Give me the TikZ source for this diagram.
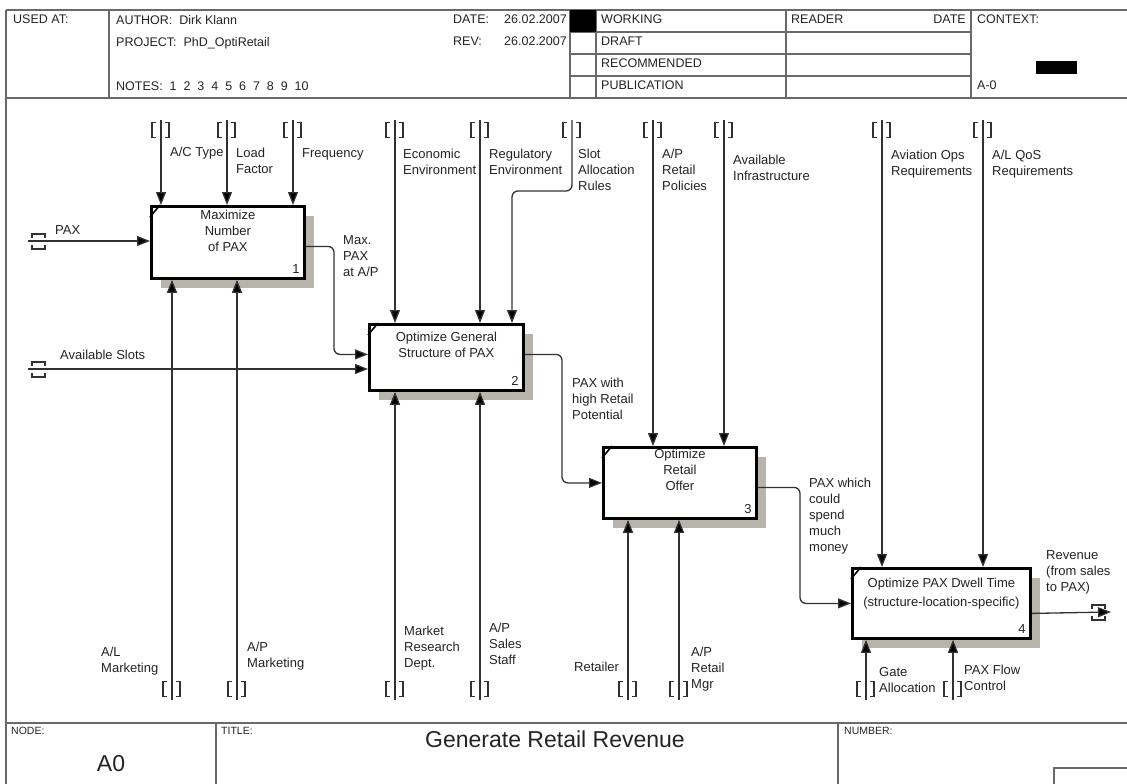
\documentclass[tikz,border=0pt]{standalone}
\usepackage{fontspec}
\setmainfont{Liberation Sans}
\usetikzlibrary{arrows.meta,shadows}
\definecolor{txt}{RGB}{35,35,35}
\definecolor{lin}{RGB}{50,50,50}
\definecolor{frm}{RGB}{105,105,105}
\definecolor{shc}{RGB}{184,179,171}
\begin{document}
\begin{tikzpicture}[x=1pt,y=-1pt,
  lbl/.style={font=\fontsize{13}{16}\selectfont, text=txt, inner sep=0pt, align=left, anchor=north west},
  hdr/.style={font=\fontsize{12.5}{15}\selectfont, text=txt, inner sep=0pt, anchor=north west},
  small/.style={font=\fontsize{10.5}{12}\selectfont, text=txt, inner sep=0pt, anchor=north west},
  big/.style={font=\fontsize{23}{26}\selectfont, text=txt, inner sep=0pt, anchor=north},
  frame/.style={draw=frm, line width=1.6pt},
  actbox/.style={draw=black, line width=2.8pt, fill=white, inner sep=0pt, anchor=north west,
     drop shadow={shadow xshift=10pt, shadow yshift=-10pt, fill=shc, opacity=1}},
  boxtxt/.style={font=\fontsize{13}{16}\selectfont, text=txt, inner sep=0pt, align=center, anchor=north},
  numtxt/.style={font=\fontsize{13}{16}\selectfont, text=txt, inner sep=0pt, anchor=base east},
  notch/.style={draw=black, line width=1.6pt},
  arr/.style={draw=lin, line width=1.3pt, rounded corners=6pt, -{Triangle[length=13pt,width=10pt,fill=black]}},
  tunnel/.style={draw=lin, line width=1.1pt},
  tunv/.pic={\draw[tunnel] (-5,-7.5) -- (-9,-7.5) -- (-9,7.5) -- (-5,7.5)
                           (4,-7.5) -- (8,-7.5) -- (8,7.5) -- (4,7.5);},
  tunh/.pic={\draw[tunnel] (2,-3) -- (2,-7) -- (15,-7) -- (15,-3)
                           (2,4) -- (2,8) -- (15,8) -- (15,4);}
]
\useasboundingbox (0,0) rectangle (1127,784);

% ---------- frame and header ----------
\draw[frame] (6,10) -- (1127,10);
\draw[frame] (6,98) -- (1127,98);
\draw[frame] (6,10) -- (6,784);
\draw[frame] (109,10) -- (109,98);
\draw[frame] (570,10) -- (570,98);
\draw[frame] (596,10) -- (596,98);
\draw[frame] (786,10) -- (786,98);
\draw[frame] (971,10) -- (971,98);
\draw[frame] (570,32) -- (971,32);
\draw[frame] (570,54) -- (971,54);
\draw[frame] (570,76) -- (971,76);
\fill[black] (570,10) rectangle (596,32);
\fill[black] (1036,61) rectangle (1077,74);

\node[hdr] (usedat) at (13,15) {USED AT:};
\node[hdr] (author) at (116,15) {AUTHOR:\ \ Dirk Klann};
\node[hdr] (project) at (116,37) {PROJECT:\ \ PhD\_OptiRetail};
\node[hdr] (notes) at (116,82) {NOTES:\ \ 1\ \ 2\ \ 3\ \ 4\ \ 5\ \ 6\ \ 7\ \ 8\ \ 9\ \ 10};
\node[hdr] (datek) at (453,15) {DATE:};
\node[hdr,anchor=north east] (datev) at (567,15) {26.02.2007};
\node[hdr] (revk) at (453,37) {REV:};
\node[hdr,anchor=north east] (revv) at (567,37) {26.02.2007};
\node[hdr] (working) at (601,15) {WORKING};
\node[hdr] (draft) at (601,37) {DRAFT};
\node[hdr] (recom) at (601,59) {RECOMMENDED};
\node[hdr] (public) at (601,81) {PUBLICATION};
\node[hdr] (reader) at (791,15) {READER};
\node[hdr,anchor=north east] (rdate) at (966,15) {DATE};
\node[hdr] (context) at (977,15) {CONTEXT:};
\node[hdr] (azero) at (977,81) {A-0};

% ---------- footer ----------
\draw[frame] (6,723) -- (1127,723);
\draw[frame] (216,723) -- (216,784);
\draw[frame] (838,723) -- (838,784);
\draw[frame] (1054,768) rectangle (1140,795);
\node[small] (nodek) at (11,727) {NODE:};
\node[small] (titlek) at (221,727) {TITLE:};
\node[small] (numberk) at (844,727) {NUMBER:};
\node[big] (title) at (555,731) {Generate Retail Revenue};
\node[big] (nodev) at (111,755) {A0};

% ---------- activity boxes ----------
\node[actbox, minimum width=153pt, minimum height=72pt] (b1) at (150,205) {};
\node[actbox, minimum width=154pt, minimum height=66pt] (b2) at (368,323) {};
\node[actbox, minimum width=153pt, minimum height=71pt] (b3) at (602,446) {};
\node[actbox, minimum width=178pt, minimum height=70pt] (b4) at (851,567) {};

\foreach \b in {b1,b2,b3,b4}{
  \draw[notch] ([yshift=-12pt]\b.north west) -- ([xshift=10pt]\b.north west);
}

\node[boxtxt] (t1) at ([yshift=-5pt]b1.north) {Maximize\\Number\\of PAX};
\node[boxtxt] (t2) at ([yshift=-9pt]b2.north) {Optimize General\\Structure of PAX};
\node[boxtxt] (t3) at ([yshift=-3pt]b3.north) {Optimize\\Retail\\Offer};
\node[boxtxt, font=\fontsize{13}{18.5}\selectfont] (t4) at ([yshift=-11pt]b4.north) {Optimize PAX Dwell Time\\(structure-location-specific)};

\node[numtxt] (n1) at ([shift={(-6pt,6pt)}]b1.south east) {1};
\node[numtxt] (n2) at ([shift={(-6pt,6pt)}]b2.south east) {2};
\node[numtxt] (n3) at ([shift={(-6pt,6pt)}]b3.south east) {3};
\node[numtxt] (n4) at ([shift={(-6pt,6pt)}]b4.south east) {4};

% ---------- controls (top) ----------
\foreach \n/\x/\b in {c1/161/b1, c2/227/b1, c3/293/b1, c4/395/b2, c5/480/b2,
                      c7/653/b3, c8/724/b3, c9/882/b4, c10/983/b4}{
  \coordinate (\n) at (\x,120);
  \pic at (\x,130) {tunv};
  \draw[arr] (\n) -- (\n |- \b.north);
}
\coordinate (c6) at (572,120);
\pic at (572,130) {tunv};
\coordinate (sx) at (512,191);
\draw[arr] (c6) |- (sx) -- (sx |- b2.north);

% ---------- mechanisms (bottom) ----------
\foreach \n/\x/\b in {m1/172/b1, m2/237/b1, m3/395/b2, m4/480/b2,
                      m5/628/b3, m6/679/b3, m7/866/b4, m8/953/b4}{
  \coordinate (\n) at (\x,700);
  \pic at (\x,689) {tunv};
  \draw[arr] (\n) -- (\n |- \b.south);
}

% ---------- inputs ----------
\coordinate (ipax) at (28,241);
\pic at (30,241) {tunh};
\draw[arr] (ipax) -- (ipax -| b1.west);
\coordinate (islot) at (28,369);
\pic at (30,369) {tunh};
\draw[arr] (islot) -- (islot -| b2.west);

% ---------- outputs ----------
\draw[arr] ([yshift=-4pt]b1.east) -| (334,300) |- ([yshift=3pt]b2.west);
\draw[arr] ([yshift=3pt]b2.east) -| (562,420) |- (b3.west);
\draw[arr] ([yshift=-4.5pt]b3.east) -| (800,550) |- (b4.west);
\coordinate (orev) at (1111,612);
\pic at (1090,612) {tunh};
\draw[arr] ([yshift=-10pt]b4.east) -- (orev);

% ---------- labels ----------
\node[lbl] (l1) at (170,147) {A/C Type};
\node[lbl] (l2) at (236,148) {Load\\Factor};
\node[lbl] (l3) at (302,148) {Frequency};
\node[lbl] (l4) at (403,149) {Economic\\Environment};
\node[lbl] (l5) at (489,149) {Regulatory\\Environment};
\node[lbl] (l6) at (578,149) {Slot\\Allocation\\Rules};
\node[lbl] (l7) at (662,149) {A/P\\Retail\\Policies};
\node[lbl] (l8) at (733,155) {Available\\Infrastructure};
\node[lbl] (l9) at (891,150) {Aviation Ops\\Requirements};
\node[lbl] (l10) at (992,150) {A/L QoS\\Requirements};
\node[lbl] (l11) at (55,225) {PAX};
\node[lbl] (l12) at (60,350) {Available Slots};
\node[lbl] (l13) at (343,235) {Max.\\PAX\\at A/P};
\node[lbl] (l14) at (572,378) {PAX with\\high Retail\\Potential};
\node[lbl] (l15) at (809,478) {PAX which\\could\\spend\\much\\money};
\node[lbl] (l16) at (1046,550) {Revenue\\(from sales\\to PAX)};
\node[lbl] (l17) at (101,647) {A/L\\Marketing};
\node[lbl] (l18) at (247,642) {A/P\\Marketing};
\node[lbl] (l19) at (404,626) {Market\\Research\\Dept.};
\node[lbl] (l20) at (489,623) {A/P\\Sales\\Staff};
\node[lbl] (l21) at (574,662) {Retailer};
\node[lbl] (l22) at (691,647) {A/P\\Retail\\Mgr};
\node[lbl] (l23) at (879,667) {Gate\\Allocation};
\node[lbl] (l24) at (964,665) {PAX Flow\\Control};
\end{tikzpicture}
\end{document}
